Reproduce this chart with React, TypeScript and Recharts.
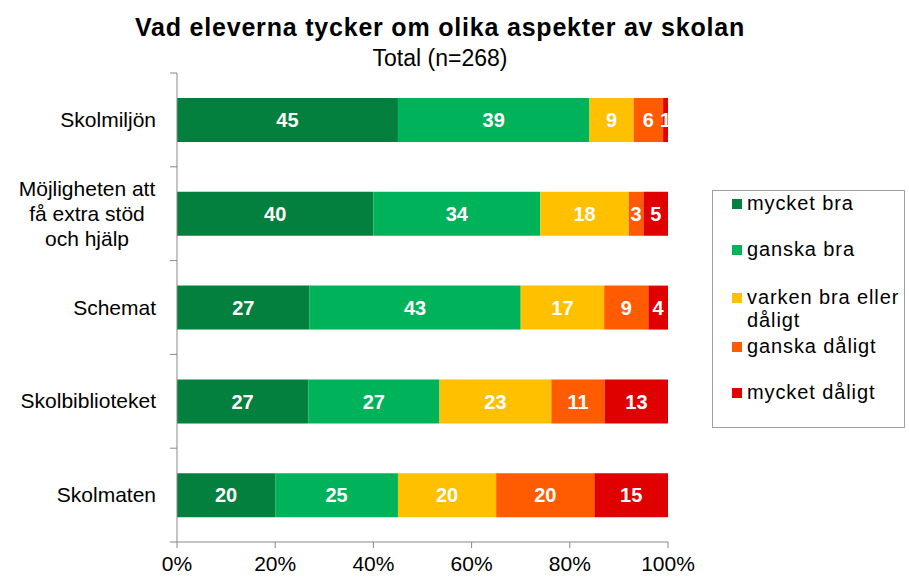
import React from 'react';
import { BarChart, Bar, XAxis, YAxis, LabelList, Legend } from 'recharts';

const categories = ['Skolmiljön', 'Möjligheten att få extra stöd och hjälp', 'Schemat', 'Skolbiblioteket', 'Skolmaten'];
const mycketBra = [45, 40, 27, 27, 20];
const ganskaBra = [39, 34, 43, 27, 25];
const varken = [9, 18, 17, 23, 20];
const ganskaDaligt = [6, 3, 9, 11, 20];
const mycketDaligt = [1, 5, 4, 13, 15];
const xTicks = [0, 0.2, 0.4, 0.6, 0.8, 1];

const SERIES = [
  { key: 'mb', name: 'mycket bra', color: '#03803E', values: mycketBra },
  { key: 'gb', name: 'ganska bra', color: '#00B25A', values: ganskaBra },
  { key: 'vb', name: 'varken bra eller dåligt', color: '#FFC000', values: varken },
  { key: 'gd', name: 'ganska dåligt', color: '#FF5B00', values: ganskaDaligt },
  { key: 'md', name: 'mycket dåligt', color: '#E00000', values: mycketDaligt },
];

const data = categories.map((cat, i) => {
  const row: Record<string, any> = { cat };
  SERIES.forEach((s) => (row[s.key] = s.values[i]));
  return row;
});

const FONT = '"Liberation Sans", Arial, sans-serif';
const BAND = 469 / categories.length;

const CatTick = (props: any) => {
  const { y, payload, index } = props;
  const text: string = payload.value;
  const multi = text.startsWith('Möjligheten');
  const lines = multi ? ['Möjligheten att', 'få extra stöd', 'och hjälp'] : [text];
  const top = y - BAND / 2;
  return (
    <g>
      <line x1={170} x2={177} y1={top} y2={top} stroke="#888" />
      {index === categories.length - 1 && (
        <line x1={170} x2={177} y1={top + BAND} y2={top + BAND} stroke="#888" />
      )}
      {lines.map((l, i) => (
        <text
          key={i}
          x={multi ? 87 : 156}
          y={y + (i - (lines.length - 1) / 2) * 25 + 7}
          textAnchor={multi ? 'middle' : 'end'}
          fontSize={21}
          fontFamily={FONT}
          fill="#000"
        >
          {l}
        </text>
      ))}
    </g>
  );
};

const PctTick = (props: any) => {
  const { x, y, payload } = props;
  return (
    <text x={x} y={y + 21} textAnchor="middle" fontSize={21} fontFamily={FONT} fill="#000">
      {`${Math.round(payload.value * 100)}%`}
    </text>
  );
};

const LegendBox = () => {
  const ys = [203, 249, 297, 346, 392];
  return (
    <div
      style={{
        position: 'absolute',
        left: 712,
        top: 190,
        width: 193,
        height: 238,
        border: '1px solid #A0A0A0',
        boxSizing: 'border-box',
        fontFamily: FONT,
        fontSize: 20,
        letterSpacing: 0.9,
        color: '#000',
      }}
    >
      {SERIES.map((s, i) => (
        <div key={s.key} style={{ position: 'absolute', left: 19, top: ys[i] - 190 - 12, display: 'flex' }}>
          <div style={{ width: 10, height: 10, background: s.color, marginTop: 7, marginRight: 5, flexShrink: 0 }} />
          <div style={{ lineHeight: '23px', width: 160 }}>{s.name}</div>
        </div>
      ))}
    </div>
  );
};

export default function App() {
  return (
    <div style={{ position: 'absolute', left: 0, top: 0, width: 909, height: 578, background: '#fff', fontFamily: FONT }}>
      <div
        style={{
          position: 'absolute',
          left: 0,
          top: 12,
          width: 880,
          textAlign: 'center',
          fontSize: 25,
          letterSpacing: 0.8,
          fontWeight: 'bold',
          lineHeight: '30px',
        }}
      >
        Vad eleverna tycker om olika aspekter av skolan
      </div>
      <div style={{ position: 'absolute', left: 0, top: 44, width: 880, textAlign: 'center', fontSize: 23, lineHeight: '28px' }}>
        Total (n=268)
      </div>
      <BarChart
        width={909}
        height={578}
        data={data}
        layout="vertical"
        stackOffset="expand"
        barSize={44}
        margin={{ top: 73, right: 241, bottom: 0, left: 0 }}
      >
        <XAxis
          type="number"
          domain={[0, 1]}
          ticks={xTicks}
          axisLine={{ stroke: '#888' }}
          tickLine={{ stroke: '#888' }}
          tickSize={6}
          height={36}
          tick={<PctTick />}
          interval={0}
        />
        <YAxis
          type="category"
          dataKey="cat"
          width={177}
          axisLine={{ stroke: '#888' }}
          tickLine={false}
          tick={<CatTick />}
          interval={0}
        />
        <Legend content={<LegendBox />} wrapperStyle={{ position: 'absolute', left: 0, top: 0, width: 0, height: 0 }} />
        {SERIES.map((s) => (
          <Bar key={s.key} dataKey={s.key} name={s.name} stackId="a" fill={s.color} isAnimationActive={false}>
            <LabelList
              dataKey={s.key}
              position="center"
              fill="#fff"
              fontSize={20}
              fontWeight="bold"
              fontFamily={FONT}
            />
          </Bar>
        ))}
      </BarChart>
    </div>
  );
}
